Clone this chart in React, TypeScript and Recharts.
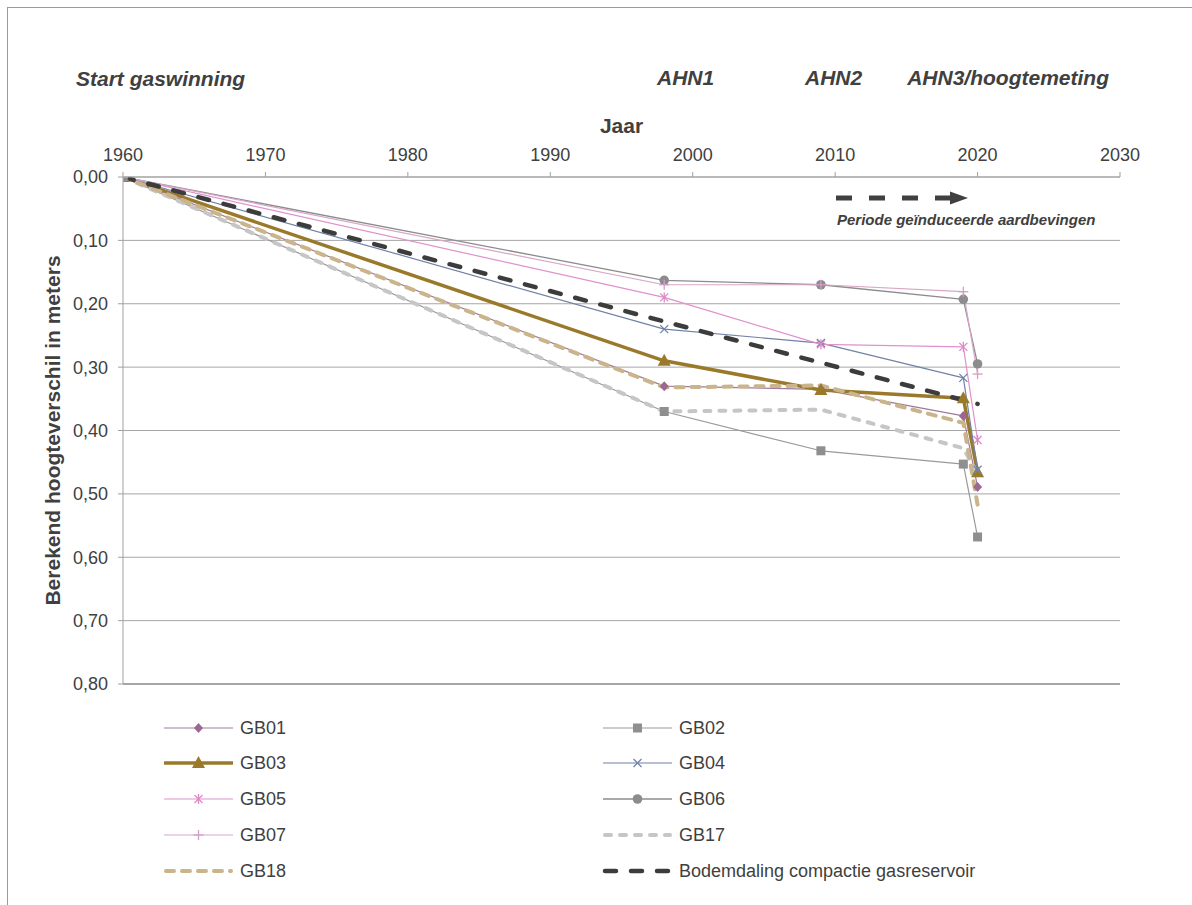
import React from 'react';
import { LineChart, Line, XAxis, YAxis, CartesianGrid, Legend, ReferenceLine } from 'recharts';

const FONT = '"Liberation Sans", Arial, Helvetica, sans-serif';
const TEXT = '#404040';

// ---- data ----
const years = [1960, 1998, 2009, 2019, 2020];
const gb01 = [0, 0.33, 0.335, 0.377, 0.489];
const gb02 = [0, 0.37, 0.432, 0.453, 0.568];
const gb03 = [0, 0.29, 0.336, 0.349, 0.466];
const gb04 = [0, 0.24, 0.262, 0.317, 0.462];
const gb05 = [0, 0.19, 0.264, 0.268, 0.415];
const gb06 = [0, 0.163, 0.17, 0.193, 0.295];
const gb07 = [0, 0.17, 0.17, 0.181, 0.311];
const gb17 = [0, 0.37, 0.367, 0.428, 0.468];
const gb18 = [0, 0.332, 0.329, 0.388, 0.517];
const bodemYears = [1960, 1998, 2009, 2020];
const bodem = [0, 0.228, 0.293, 0.358];

const xTicks = [1960, 1970, 1980, 1990, 2000, 2010, 2020, 2030];
const yTicks = [0, 0.1, 0.2, 0.3, 0.4, 0.5, 0.6, 0.7, 0.8];

const xLabel = 'Jaar';
const yLabel = 'Berekend hoogteverschil in meters';
const annStart = 'Start gaswinning';
const annAhn1 = 'AHN1';
const annAhn2 = 'AHN2';
const annAhn3 = 'AHN3/hoogtemeting';
const annPeriod = 'Periode geïnduceerde aardbevingen';

type Marker = 'diamond' | 'square' | 'triangle' | 'x' | 'star' | 'circle' | 'plus' | 'none';
interface Series {
  name: string;
  xs: number[];
  values: number[];
  color: string;
  width: number;
  dash?: string;
  marker: Marker;
  markerColor: string;
}

const series: Series[] = [
  { name: 'GB01', xs: years, values: gb01, color: '#a07a9a', width: 1.2, marker: 'diamond', markerColor: '#9a6890' },
  { name: 'GB02', xs: years, values: gb02, color: '#9a9a9a', width: 1.2, marker: 'square', markerColor: '#8f8f8f' },
  { name: 'GB03', xs: years, values: gb03, color: '#9a7a2a', width: 3.5, marker: 'triangle', markerColor: '#9a7a2a' },
  { name: 'GB04', xs: years, values: gb04, color: '#6f82a6', width: 1.2, marker: 'x', markerColor: '#6f82a6' },
  { name: 'GB05', xs: years, values: gb05, color: '#e091cc', width: 1.2, marker: 'star', markerColor: '#dd88c8' },
  { name: 'GB06', xs: years, values: gb06, color: '#8c8c8c', width: 1.3, marker: 'circle', markerColor: '#8c8c8c' },
  { name: 'GB07', xs: years, values: gb07, color: '#d8a6c9', width: 1.2, marker: 'plus', markerColor: '#d49ec4' },
  { name: 'GB17', xs: years, values: gb17, color: '#c6c6c6', width: 4, dash: '6 9', marker: 'none', markerColor: '#c6c6c6' },
  { name: 'GB18', xs: years, values: gb18, color: '#c9b48b', width: 4, dash: '8 8', marker: 'none', markerColor: '#c9b48b' },
  { name: 'Bodemdaling compactie gasreservoir', xs: bodemYears, values: bodem, color: '#3c3c3c', width: 4.5, dash: '11 15', marker: 'none', markerColor: '#3c3c3c' },
];

function MarkerShape({ kind, x, y, color }: { kind: Marker; x: number; y: number; color: string }) {
  switch (kind) {
    case 'diamond':
      return <polygon points={`${x},${y - 5} ${x + 4.5},${y} ${x},${y + 5} ${x - 4.5},${y}`} fill={color} />;
    case 'square':
      return <rect x={x - 4.5} y={y - 4.5} width={9} height={9} fill={color} />;
    case 'triangle':
      return <polygon points={`${x},${y - 7} ${x + 6.5},${y + 5} ${x - 6.5},${y + 5}`} fill={color} />;
    case 'x':
      return (
        <g stroke={color} strokeWidth={1.3}>
          <line x1={x - 4} y1={y - 4} x2={x + 4} y2={y + 4} />
          <line x1={x - 4} y1={y + 4} x2={x + 4} y2={y - 4} />
        </g>
      );
    case 'star':
      return (
        <g stroke={color} strokeWidth={1.3}>
          <line x1={x - 4} y1={y - 4} x2={x + 4} y2={y + 4} />
          <line x1={x - 4} y1={y + 4} x2={x + 4} y2={y - 4} />
          <line x1={x} y1={y - 5} x2={x} y2={y + 5} />
        </g>
      );
    case 'circle':
      return <circle cx={x} cy={y} r={4.8} fill={color} />;
    case 'plus':
      return (
        <g stroke={color} strokeWidth={1.3}>
          <line x1={x - 5} y1={y} x2={x + 5} y2={y} />
          <line x1={x} y1={y - 5} x2={x} y2={y + 5} />
        </g>
      );
    default:
      return null;
  }
}

const fmt = (v: number) => v.toFixed(2).replace('.', ',');

// legend layout (relative to legend wrapper)
const LEG_LEFT = 0;
const LEG_TOP = 690;
const legendCols = [156, 595];
const legendRows = [30, 65, 101, 137, 173];

function LegendContent() {
  return (
    <svg width={1100} height={200} style={{ overflow: 'visible' }}>
      {series.map((s, i) => {
        const col = i % 2;
        const row = Math.floor(i / 2);
        const x0 = legendCols[col];
        const y = legendRows[row];
        return (
          <g key={s.name}>
            <line
              x1={x0 + (s.dash ? 2 : 0)}
              y1={y}
              x2={x0 + 69 - (s.dash ? 2 : 0)}
              y2={y}
              stroke={s.color}
              strokeWidth={s.width}
              strokeDasharray={s.dash}
              strokeLinecap={s.dash ? 'round' : 'butt'}
            />
            <MarkerShape kind={s.marker} x={x0 + 34.5} y={y} color={s.markerColor} />
            <text x={x0 + 76} y={y} dy="0.35em" fontFamily={FONT} fontSize={18} fill={TEXT}>
              {s.name}
            </text>
          </g>
        );
      })}
    </svg>
  );
}

function YLabel(props: any) {
  const vb = props.viewBox || { x: 45, y: 169, width: 70, height: 507 };
  const x = vb.x + 6.5;
  const y = vb.y + vb.height / 2;
  return (
    <text
      x={x}
      y={y}
      transform={`rotate(-90, ${x}, ${y})`}
      textAnchor="middle"
      fontFamily={FONT}
      fontSize={21}
      fontWeight="bold"
      fill={TEXT}
    >
      {yLabel}
    </text>
  );
}

export default function App() {
  return (
    <div style={{ position: 'relative', width: 1184, height: 880, background: '#fff' }}>
      <div
        style={{
          position: 'fixed',
          left: 7,
          top: 7,
          width: 1400,
          height: 1200,
          borderLeft: '1px solid #9a9a9a',
          borderTop: '1px solid #9a9a9a',
          pointerEvents: 'none',
          zIndex: 5,
        }}
      />
      <LineChart
        width={1184}
        height={880}
        margin={{ top: 129, right: 72, bottom: 204, left: 45 }}
      >
        <CartesianGrid vertical={false} stroke="#a6a6a6" strokeWidth={1} />
        <XAxis
          dataKey="year"
          type="number"
          orientation="top"
          domain={[1960, 2030]}
          ticks={xTicks}
          height={40}
          allowDataOverflow
          stroke="#a0a0a0"
          tickSize={5}
          tickMargin={11}
          tick={{ fontFamily: FONT, fontSize: 18, fill: TEXT }}
          tickLine={{ stroke: '#a0a0a0' }}
          label={{ value: xLabel, position: 'top', offset: 4, fontFamily: FONT, fontSize: 21, fontWeight: 'bold', fill: TEXT }}
        />
        <YAxis
          type="number"
          reversed
          domain={[0, 0.8]}
          ticks={yTicks}
          width={70}
          allowDataOverflow
          stroke="#a0a0a0"
          tickSize={5}
          tickMargin={10}
          tickFormatter={fmt}
          tick={{ fontFamily: FONT, fontSize: 18, fill: TEXT }}
          tickLine={{ stroke: '#a0a0a0' }}
          label={<YLabel />}
        />
        <ReferenceLine y={0.8} stroke="#a6a6a6" strokeWidth={2} />
        {series.map((s) => (
          <Line
            key={s.name}
            name={s.name}
            data={s.xs.map((yr, i) => ({ year: yr, v: s.values[i] }))}
            dataKey="v"
            type="linear"
            stroke={s.color}
            strokeWidth={s.width}
            strokeDasharray={s.dash}
            strokeLinecap={s.dash ? 'round' : 'butt'}
            strokeLinejoin="round"
            dot={
              s.marker === 'none'
                ? false
                : (p: any) => (
                    <MarkerShape
                      key={`${s.name}-${p.index}`}
                      kind={s.marker}
                      x={p.cx}
                      y={p.cy}
                      color={s.markerColor}
                    />
                  )
            }
            activeDot={false}
            isAnimationActive={false}
          />
        ))}
        <Legend
          layout="horizontal"
          verticalAlign="middle"
          align="center"
          content={() => <LegendContent />}
          wrapperStyle={{ left: LEG_LEFT, top: LEG_TOP, width: 1100, height: 190 }}
        />
      </LineChart>
      {/* overlay in page coordinates: svg placed at page (0,0) */}
      <svg
        width={1184}
        height={897}
        style={{ position: 'absolute', left: -8, top: -8, pointerEvents: 'none' }}
      >
        <g fontFamily={FONT} fontWeight="bold" fontStyle="italic" fill={TEXT}>
          <text x={76} y={86} fontSize={21}>{annStart}</text>
          <text x={657} y={85} fontSize={21}>{annAhn1}</text>
          <text x={805} y={85} fontSize={21}>{annAhn2}</text>
          <text x={1109} y={85} fontSize={21} textAnchor="end">{annAhn3}</text>
          <text x={837} y={225} fontSize={15}>{annPeriod}</text>
        </g>
        <line x1={836} y1={198} x2={950} y2={198} stroke={TEXT} strokeWidth={5} strokeDasharray="16 17" />
        <polygon points="950,191.5 968,198 950,204.5" fill={TEXT} />
      </svg>
    </div>
  );
}
